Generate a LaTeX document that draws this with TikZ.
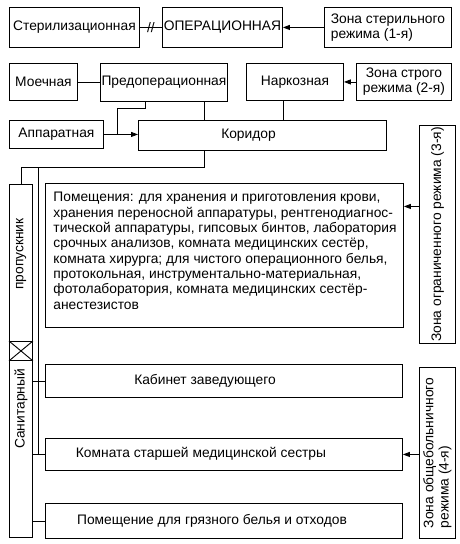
\documentclass[tikz,border=0pt]{standalone}
\usepackage{fontspec}
\setmainfont{Liberation Sans}
\usetikzlibrary{arrows.meta}

\begin{document}
\begin{tikzpicture}[x=1pt,y=-1pt,line width=0.9pt,
  every node/.style={font=\fontsize{13.8}{15.3}\selectfont},
  box/.style={draw,anchor=north west,inner sep=0pt,align=center},
  arr/.style={-{Triangle[length=7pt,width=5pt]}}]
\useasboundingbox (0,0) rectangle (460,544);

\def\xl{9};
\def\xm{45};
\def\xz{419};

\def\ya{7};
\def\yb{63};
\def\yc{120};

\node[box,minimum width=130pt,minimum height=40pt] (ster) at (\xl,\ya) {Стерилизационная};
\node[box,minimum width=120pt,minimum height=40pt] (oper) at (162,\ya) {ОПЕРАЦИОННАЯ};
\node[box,minimum width=127pt,minimum height=40pt,align=left] (zone1) at (324,\ya) {Зона стерильного\\режима (1-я)};

\node[box,minimum width=68pt,minimum height=37pt] (moech) at (\xl,\yb) {Моечная};
\node[box,minimum width=127pt,minimum height=38pt] (preop) at (100,\yb) {Предоперационная};
\node[box,minimum width=97pt,minimum height=37pt] (narc) at (246,\yb) {Наркозная};
\node[box,minimum width=95pt,minimum height=37pt] (zone2) at (356,\yb) {Зона строго\\режима (2-я)};

\node[box,minimum width=94pt,minimum height=28pt] (appar) at (\xl,\yc) {Аппаратная};
\node[box,minimum width=248pt,minimum height=30pt] (corr) at (138,\yc) {};
\node (corrtxt) at (248.5,135) {Коридор};

\node[box,minimum width=23pt,minimum height=157pt] (propusk) at (\xl,184) {};
\node[box,minimum width=23pt,minimum height=19pt] (door) at (\xl,341) {};
\node[box,minimum width=23pt,minimum height=177pt] (sanlow) at (\xl,360) {};
\node[rotate=90] (proptxt) at (21,254) {пропускник};
\node[rotate=90] (santxt) at (21,409) {Санитарный};
\draw (door.north west) -- (door.south east) (door.north east) -- (door.south west);

\node[box,minimum width=358pt,minimum height=144pt] (pomesh) at (\xm,183) {};
\node[anchor=north west,align=left,inner sep=0pt] (pomeshtxt) at (53,192) {Помещения: для хранения и приготовления крови,\\
хранения переносной аппаратуры, рентгенодиагнос-\\
тической аппаратуры, гипсовых бинтов, лаборатория\\
срочных анализов, комната медицинских сестёр,\\
комната хирурга; для чистого операционного белья,\\
протокольная, инструментально-материальная,\\
фотолаборатория, комната медицинских сестёр-\\
анестезистов};

\node[box,minimum width=357pt,minimum height=33pt] (kab) at (\xm,364) {};
\node (kabtxt) at (205,380.5) {Кабинет заведующего};
\node[box,minimum width=357pt,minimum height=32pt] (sister) at (\xm,438) {};
\node (sistertxt) at (201,454) {Комната старшей медицинской сестры};
\node[box,minimum width=357pt,minimum height=35pt] (dirty) at (\xm,503) {};
\node (dirtytxt) at (212,520.5) {Помещение для грязного белья и отходов};

\node[box,minimum width=36pt,minimum height=218pt] (zone3) at (\xz,125) {};
\node[rotate=90] (zone3txt) at (zone3.center) {Зона ограниченного режима (3-я)};
\node[box,minimum width=36pt,minimum height=171pt] (zone4) at (\xz,367) {};
\node[rotate=90,align=left] (zone4txt) at (zone4.center) {Зона общебольничного\\режима (4-я)};

\draw (ster.east) -- node[inner sep=0pt] (sep) {//} (ster.east -| oper.west);
\draw[arr] (zone1) -- (oper);
\draw (moech.east) -- (moech.east -| preop.west);
\draw[arr] (zone2) -- (narc);
\draw[arr] (appar.east) -- (appar.east -| corr.west);

\coordinate (p1) at ([xshift=-18.5pt]preop.south);
\coordinate (k1) at (117,108);
\draw (p1) |- (k1) -- (k1 |- appar.east);
\coordinate (p2) at ([xshift=40.5pt]preop.south);
\draw (p2) -- (p2 |- corr.north);
\coordinate (n1) at ([xshift=-11.5pt]narc.south);
\draw (n1) -- (n1 |- corr.north);

\coordinate (c1) at ([xshift=-58pt]corr.south);
\coordinate (k2) at (21,167);
\draw (c1) |- (k2) -- (k2 |- propusk.north);
\coordinate (k3) at (38,167);
\draw (k3) -- (k3 |- sister.west);

\draw (kab.west -| sanlow.east) -- (kab.west);
\draw (sister.west -| sanlow.east) -- (sister.west);
\draw (dirty.west -| sanlow.east) -- (dirty.west);

\coordinate (z3) at ([yshift=28pt]zone3.west);
\draw[arr] (z3) -- (z3 -| pomesh.east);
\draw[arr] (zone4.west |- sister.east) -- (sister.east);

\end{tikzpicture}
\end{document}
